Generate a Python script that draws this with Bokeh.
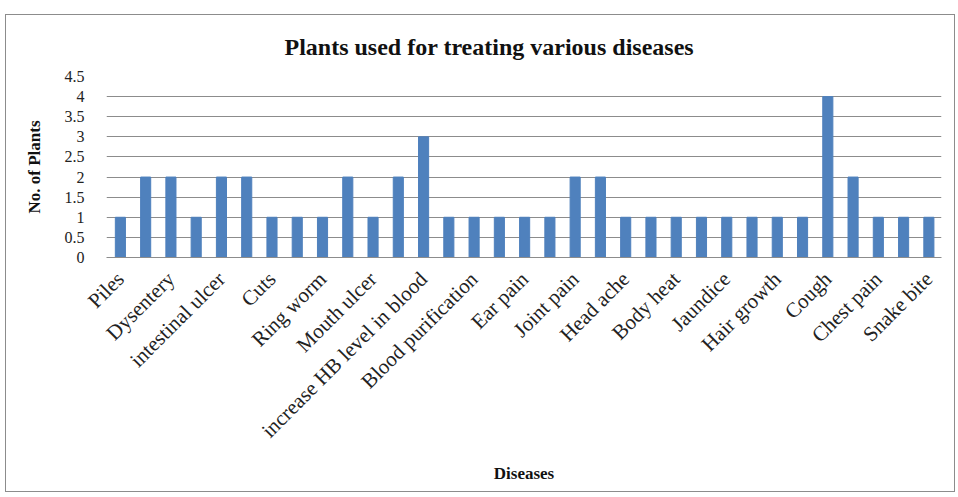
from math import pi
from bokeh.plotting import figure
from bokeh.models import FixedTicker
from bokeh.embed import file_html
from bokeh.resources import INLINE

# Every other category is labelled on the axis (as in the source chart)
shown_labels = ["Piles", "Dysentery", "intestinal ulcer", "Cuts", "Ring worm",
                "Mouth ulcer", "increase HB level in blood", "Blood purification",
                "Ear pain", "Joint pain", "Head ache", "Body heat", "Jaundice",
                "Hair growth", "Cough", "Chest pain", "Snake bite"]
counts = [1, 2, 2, 1, 2, 2, 1, 1, 1, 2, 1, 2, 3, 1, 1, 1,
          1, 1, 2, 2, 1, 1, 1, 1, 1, 1, 1, 1, 4, 2, 1, 1, 1]
y_ticks = [0, 0.5, 1, 1.5, 2, 2.5, 3, 3.5, 4, 4.5]

idx = list(range(len(counts)))
label_pos = [2 * i for i in range(len(shown_labels))]

SERIF = "Liberation Serif"

p = figure(width=950, height=478, x_range=(-0.55, 32.5), y_range=(0, 4.5),
           output_backend="svg", toolbar_location=None,
           min_border_left=100, min_border_right=15, min_border_top=61,
           min_border_bottom=236,
           title="Plants used for treating various diseases")
p.styles = {"border": "1px solid #8c8c8c", "margin-left": "5px", "margin-top": "14px"}

p.vbar(x=idx, top=counts, width=0.4, color="#4f81bd")

p.title.text_font = SERIF
p.title.text_font_size = "24px"
p.title.text_font_style = "bold"
p.title.align = "left"
p.title.offset = 178
p.title.standoff = 33
p.title.text_color = "#111111"

p.outline_line_color = None
p.xgrid.grid_line_color = None
p.ygrid.grid_line_color = "#8c8c8c"
p.ygrid.ticker = FixedTicker(ticks=y_ticks)

p.yaxis.ticker = FixedTicker(ticks=y_ticks)
p.yaxis.axis_line_color = None
p.yaxis.major_tick_line_color = None
p.yaxis.minor_tick_line_color = None
p.yaxis.major_label_text_font = SERIF
p.yaxis.major_label_text_font_size = "16px"
p.yaxis.major_label_text_color = "#222222"
p.yaxis.major_label_standoff = 16
p.yaxis.axis_label = "No. of Plants"
p.yaxis.axis_label_text_font = SERIF
p.yaxis.axis_label_text_font_size = "17px"
p.yaxis.axis_label_text_font_style = "bold"
p.yaxis.axis_label_text_color = "#111111"
p.yaxis.axis_label_standoff = 18

p.xaxis.ticker = FixedTicker(ticks=label_pos)
p.xaxis.major_label_overrides = {pos: lab for pos, lab in zip(label_pos, shown_labels)}
p.xaxis.major_label_orientation = pi / 4
p.xaxis.major_label_text_font = SERIF
p.xaxis.major_label_text_font_size = "21px"
p.xaxis.major_label_text_color = "#222222"
p.xaxis.major_label_standoff = 12
p.xaxis.axis_line_color = "#8c8c8c"
p.xaxis.major_tick_line_color = None
p.xaxis.minor_tick_line_color = None
p.xaxis.axis_label = "Diseases"
p.xaxis.axis_label_text_font = SERIF
p.xaxis.axis_label_text_font_size = "17px"
p.xaxis.axis_label_text_font_style = "bold"
p.xaxis.axis_label_text_color = "#111111"
p.xaxis.axis_label_standoff = 10

open("out.html", "w").write(file_html(p, INLINE))
